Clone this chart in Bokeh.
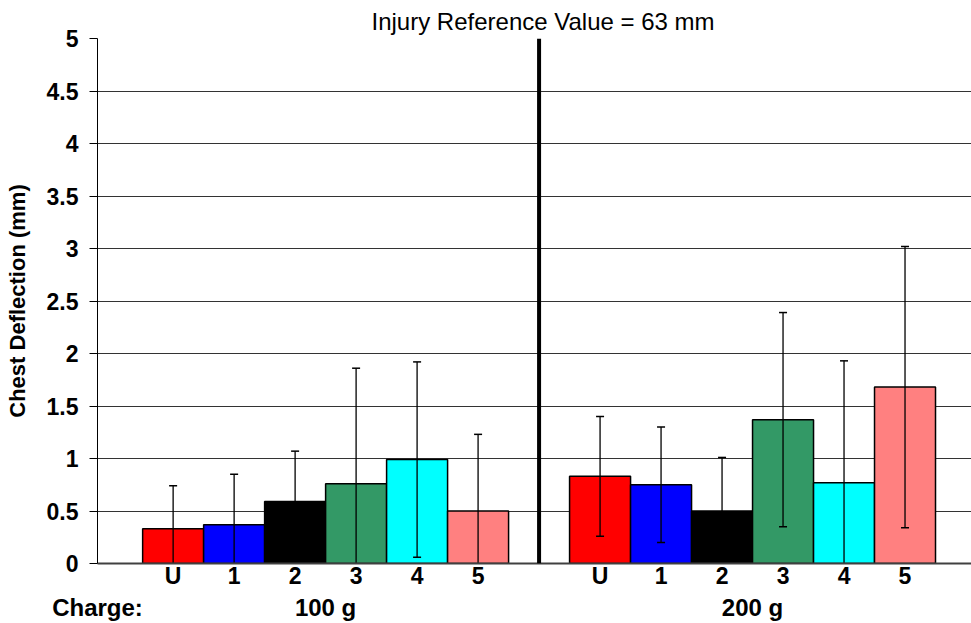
from bokeh.plotting import figure
from bokeh.models import (Range1d, FixedTicker, LinearAxis, Span,
                          NumeralTickFormatter, ColumnDataSource)
from bokeh.embed import file_html
from bokeh.resources import INLINE

# ---- data ----
categories = ["U", "1", "2", "3", "4", "5"]
groups = ["100 g", "200 g"]
colors = ["#FF0000", "#0000FF", "#000000", "#339966", "#00FFFF", "#FF8080"]
means_100 = [0.33, 0.37, 0.59, 0.76, 0.99, 0.50]
err_100 = [0.41, 0.48, 0.48, 1.10, 0.93, 0.73]
means_200 = [0.83, 0.75, 0.50, 1.37, 0.77, 1.68]
err_200 = [0.57, 0.55, 0.51, 1.02, 1.16, 1.34]
y_ticks = [0, 0.5, 1, 1.5, 2, 2.5, 3, 3.5, 4, 4.5, 5]
title_text = "Injury Reference Value = 63 mm"
y_label = "Chest Deflection (mm)"
charge_label = "Charge:"

FONT = "Liberation Sans"
group_step = len(categories) + 1
X_START, X_END = -1.24, 13.09

xs, tops, errs, cols, labels = [], [], [], [], []
for g, (m, e) in enumerate([(means_100, err_100), (means_200, err_200)]):
    for i, cat in enumerate(categories):
        xs.append(g * group_step + i)
        tops.append(m[i])
        errs.append(e[i])
        cols.append(colors[i])
        labels.append(cat)

src = ColumnDataSource(dict(
    x=xs, top=tops, color=cols,
    lo=[t - e for t, e in zip(tops, errs)],
    hi=[t + e for t, e in zip(tops, errs)],
))

p = figure(width=971, height=623, output_backend="svg", toolbar_location=None,
           x_range=Range1d(X_START, X_END), y_range=Range1d(0, 5),
           min_border_left=97, min_border_right=0, min_border_top=38,
           min_border_bottom=60, x_axis_location=None, y_axis_location=None,
           title=title_text)
p.outline_line_color = None
p.background_fill_color = "white"
p.border_fill_color = "white"

p.title.align = "left"
p.title.offset = 274
p.title.standoff = 8
p.title.text_font = FONT
p.title.text_font_style = "normal"
p.title.text_font_size = "24px"
p.title.text_color = "black"

# y axis
yaxis = LinearAxis(ticker=FixedTicker(ticks=y_ticks),
                   formatter=NumeralTickFormatter(format="0.[0]"),
                   axis_label=y_label)
yaxis.axis_line_color = "black"
yaxis.major_tick_out = 8
yaxis.major_tick_in = 0
yaxis.minor_tick_line_color = None
yaxis.major_label_standoff = 11
yaxis.major_label_text_font = FONT
yaxis.major_label_text_font_style = "bold"
yaxis.major_label_text_font_size = "23px"
yaxis.major_label_text_color = "black"
yaxis.axis_label_text_font = FONT
yaxis.axis_label_text_font_style = "bold"
yaxis.axis_label_text_font_size = "22px"
yaxis.axis_label_text_color = "black"
yaxis.axis_label_standoff = 14
p.add_layout(yaxis, "left")

# x axis (categories)
xaxis = LinearAxis(ticker=FixedTicker(ticks=xs),
                   major_label_overrides={x: l for x, l in zip(xs, labels)})
xaxis.axis_line_color = "#404040"
xaxis.axis_line_width = 2
xaxis.major_tick_line_color = None
xaxis.minor_tick_line_color = None
xaxis.major_label_standoff = -7
xaxis.major_label_text_font = FONT
xaxis.major_label_text_font_style = "bold"
xaxis.major_label_text_font_size = "23px"
xaxis.major_label_text_color = "black"
p.add_layout(xaxis, "below")

# group axis (with the "Charge:" caption at the left end)
group_centers = [g * group_step + (len(categories) - 1) / 2 for g in range(len(groups))]
g_ticks = [X_START] + group_centers
g_labels = [charge_label] + groups
gaxis = LinearAxis(ticker=FixedTicker(ticks=g_ticks),
                   major_label_overrides={c: g for c, g in zip(g_ticks, g_labels)})
gaxis.axis_line_color = None
gaxis.major_tick_line_color = None
gaxis.minor_tick_line_color = None
gaxis.major_label_standoff = -4
gaxis.major_label_text_font = FONT
gaxis.major_label_text_font_style = "bold"
gaxis.major_label_text_font_size = "24px"
gaxis.major_label_text_color = "black"
p.add_layout(gaxis, "below")

# grid
p.xgrid.grid_line_color = None
p.ygrid.ticker = FixedTicker(ticks=y_ticks)
p.ygrid.grid_line_color = "#333333"
p.ygrid.grid_line_width = 1

# bars
p.vbar(x="x", top="top", bottom=0, width=1.0, fill_color="color",
       line_color="black", line_width=1.5, source=src)

# error bars
p.segment(x0="x", y0="lo", x1="x", y1="hi", line_color="black", line_width=1.3, source=src)
p.scatter(x="x", y="hi", marker="dash", size=8, line_color="black", line_width=1.5, source=src)
p.scatter(x="x", y="lo", marker="dash", size=8, line_color="black", line_width=1.5, source=src)

# divider between groups
divider_x = len(categories) - 0.5 + (group_step - len(categories)) / 2
p.add_layout(Span(location=divider_x, dimension="height", line_color="black", line_width=4))

open("out.html", "w").write(file_html(p, INLINE))
